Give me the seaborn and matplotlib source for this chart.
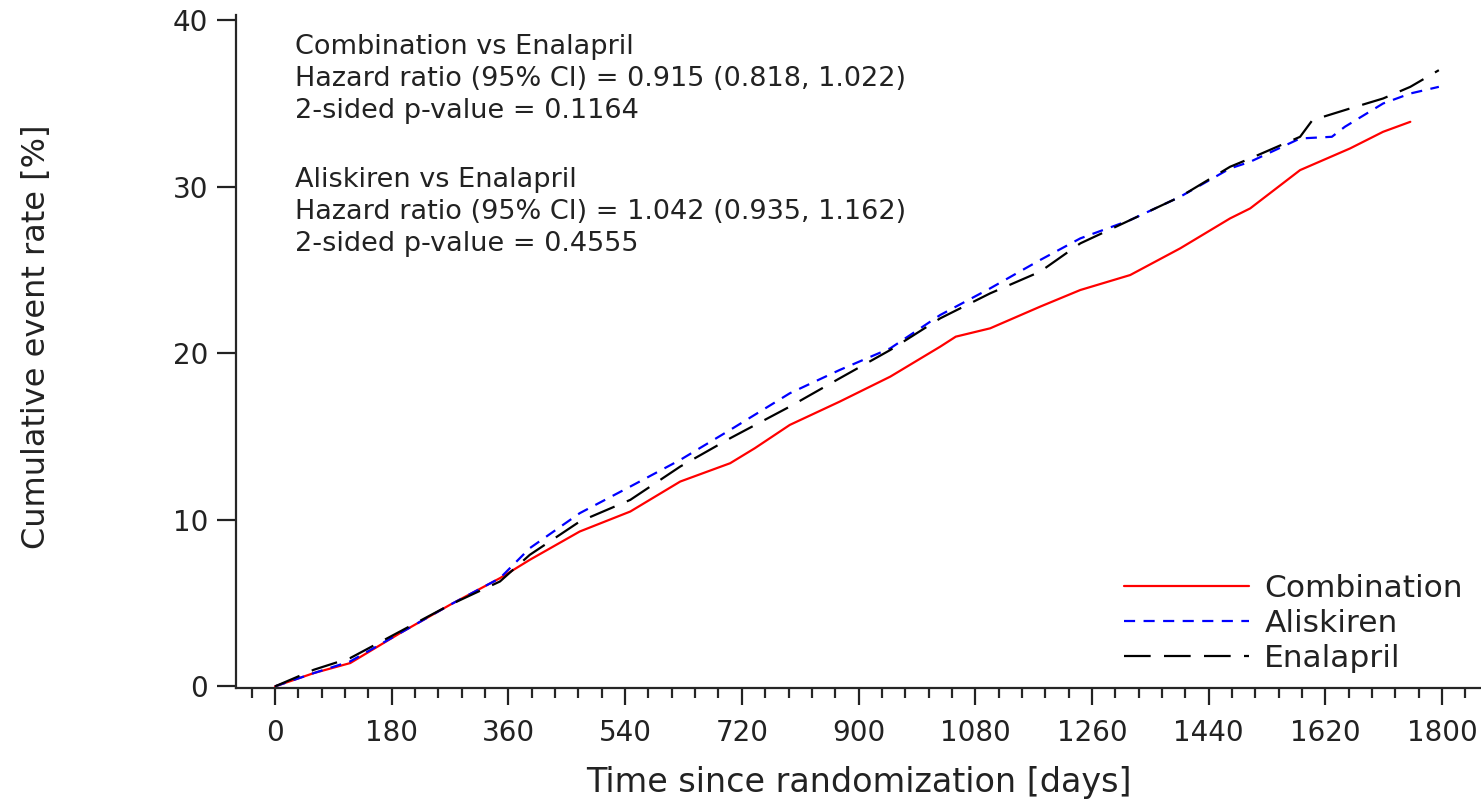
import numpy as np
import pandas as pd
import matplotlib
matplotlib.use('Agg')
import matplotlib.pyplot as plt
from matplotlib.ticker import MultipleLocator
import seaborn as sns

# Cumulative event rate (%), per treatment arm
comb_days = [0, 60, 116, 193, 270, 347, 393, 470, 548, 625, 702, 740, 794, 871, 949, 1026, 1050,
             1103, 1180, 1242, 1319, 1396, 1473, 1504, 1581, 1658, 1709, 1751]
comb_rate = [0, 0.8, 1.4, 3.2, 4.9, 6.5, 7.6, 9.3, 10.5, 12.3, 13.4, 14.3, 15.7, 17.1, 18.6, 20.4, 21.0,
             21.5, 22.8, 23.8, 24.7, 26.3, 28.1, 28.7, 31.0, 32.3, 33.3, 33.9]

alis_days = [0, 60, 116, 193, 270, 347, 393, 470, 548, 625, 702, 794, 871, 949, 1026, 1103, 1180,
             1242, 1319, 1396, 1473, 1504, 1581, 1630, 1650, 1709, 1751, 1795]
alis_rate = [0, 0.8, 1.5, 3.2, 4.9, 6.5, 8.3, 10.4, 12.0, 13.6, 15.4, 17.6, 19.0, 20.3, 22.3, 23.9, 25.6,
             26.9, 28.0, 29.4, 31.1, 31.5, 32.9, 33.0, 33.6, 35.0, 35.6, 36.0]

enal_days = [0, 60, 116, 193, 270, 347, 393, 470, 548, 625, 702, 794, 871, 949, 1026, 1103, 1180,
             1242, 1319, 1396, 1473, 1504, 1581, 1600, 1658, 1709, 1751, 1795]
enal_rate = [0, 1.0, 1.7, 3.3, 4.9, 6.3, 7.9, 9.9, 11.2, 13.2, 14.9, 16.8, 18.5, 20.2, 22.1, 23.6, 24.9,
             26.6, 28.0, 29.4, 31.2, 31.7, 33.0, 34.0, 34.7, 35.3, 36.0, 37.0]

x_ticks = [0, 180, 360, 540, 720, 900, 1080, 1260, 1440, 1620, 1800]
y_ticks = [0, 10, 20, 30, 40]

comb_note = ("Combination vs Enalapril\n"
             "Hazard ratio (95% CI) = 0.915 (0.818, 1.022)\n"
             "2-sided p-value = 0.1164")
alis_note = ("Aliskiren vs Enalapril\n"
             "Hazard ratio (95% CI) = 1.042 (0.935, 1.162)\n"
             "2-sided p-value = 0.4555")

sns.set_style("ticks")
plt.rcParams['font.family'] = ['DejaVu Sans']

fig = plt.figure(figsize=(14.81, 8.01), dpi=100)
ax = fig.add_axes([0.1594, 0.141, 0.8406, 0.840])

series = [
    ("Combination", comb_days, comb_rate, "#ff0000", "-"),
    ("Aliskiren", alis_days, alis_rate, "#0000ff", (0, (5.0, 3.8))),
    ("Enalapril", enal_days, enal_rate, "black", (0, (12, 6))),
]
for name, d, r, col, ls in series:
    df = pd.DataFrame({"day": d, "rate": r})
    sns.lineplot(data=df, x="day", y="rate", ax=ax, color=col, linestyle=ls,
                 linewidth=1.6, label=name, estimator=None, sort=False)

ax.set_xlim(-60, 1860)
ax.set_ylim(-0.1, 40.3)
ax.set_xticks(x_ticks)
ax.set_yticks(y_ticks)
ax.xaxis.set_minor_locator(MultipleLocator(36))
ax.tick_params(axis='x', which='major', length=12, width=1.6, labelsize=20, colors='#222222', pad=10)
ax.tick_params(axis='x', which='minor', length=7, width=1.6)
ax.tick_params(axis='y', which='major', length=14, width=1.6, labelsize=20, colors='#222222', pad=6)
for s in ['left', 'bottom']:
    ax.spines[s].set_linewidth(1.6)
sns.despine(ax=ax)

ax.set_xlabel("Time since randomization [days]", fontsize=24, color='#222222', labelpad=14)
ax.set_ylabel("Cumulative event rate [%]", fontsize=23, color='#222222')
ax.yaxis.set_label_coords(-0.148, 0.522)

ax.text(0.0474, 0.9725, comb_note, transform=ax.transAxes, ha='left', va='top',
        fontsize=19.5, color='#222222', linespacing=1.3)
ax.text(0.0474, 0.775, alis_note, transform=ax.transAxes, ha='left', va='top',
        fontsize=19.5, color='#222222', linespacing=1.3)

leg = ax.legend(loc='lower right', frameon=False, fontsize=22.5, handlelength=4.0,
                handletextpad=0.5, labelspacing=0.2, bbox_to_anchor=(1.008, -0.02))
for t in leg.get_texts():
    t.set_color('#222222')

fig.savefig("out.png", dpi=100)
